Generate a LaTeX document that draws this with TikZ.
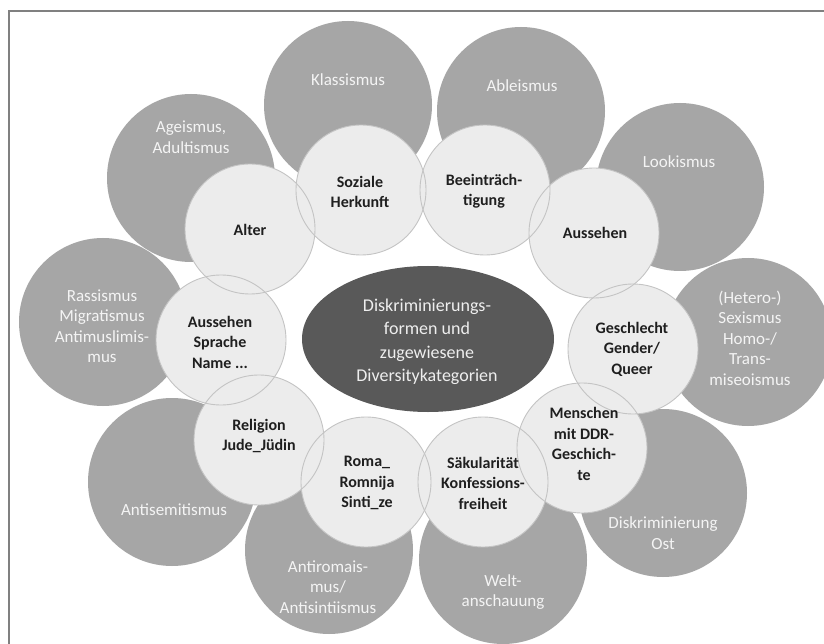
\documentclass[tikz,border=0pt]{standalone}
\usepackage{fontspec}
\setmainfont{Carlito}
\definecolor{outerc}{HTML}{A6A6A6}
\definecolor{innerc}{HTML}{ECECEC}
\definecolor{linec}{HTML}{C4C4C4}
\definecolor{ellc}{HTML}{595959}
\definecolor{otextc}{HTML}{F4F4F4}
\definecolor{etextc}{HTML}{EEEEEE}
\definecolor{framec}{HTML}{808080}
\begin{document}
\begin{tikzpicture}[x=1pt,y=-1pt,
  outer/.style={circle, fill=outerc, minimum size=168pt, inner sep=0pt},
  inner/.style={circle, fill=innerc, minimum size=130pt, inner sep=0pt},
  innerline/.style={draw=linec, line width=0.9pt},
  otext/.style={text=otextc, font=\fontsize{17}{20.5}\selectfont, align=center, inner sep=0pt},
  itext/.style={text=black!88, font=\fontsize{16}{20.5}\selectfont\bfseries, align=center, inner sep=0pt},
  etext/.style={text=etextc, font=\fontsize{18}{23.5}\selectfont, align=center, inner sep=0pt},
  framel/.style={draw=framec, line width=2pt}
]
\useasboundingbox (0,0) rectangle (824,644);
\clip (0,0) rectangle (824,644);
\fill[white] (0,0) rectangle (824,644);

% frame
\coordinate (fa) at (9,644);
\coordinate (fb) at (9,11);
\coordinate (fc) at (824,11);
\draw[framel] (fa) -- (fb) -- (fc);

% outer circles
\node[outer] (oage)  at (191,178) {};
\node[outer] (oklas) at (348,105) {};
\node[outer] (oable) at (521,111) {};
\node[outer] (olook) at (680,187) {};
\node[outer] (osex)  at (748,342) {};
\node[outer] (oost)  at (663,493) {};
\node[outer] (owelt) at (503,560) {};
\node[outer] (oroma) at (329,550) {};
\node[outer] (osemi) at (172,482) {};
\node[outer] (orass) at (103,322) {};

% outer texts
\node[otext] (tage)  at (191,137) {Ageismus,\\Adultismus};
\node[otext] (tklas) at (348,80)  {Klassismus};
\node[otext] (table) at (522,86)  {Ableismus};
\node[otext] (tlook) at (679,162) {Lookismus};
\node[otext] (tsex)  at (750,338) {(Hetero-)\\Sexismus\\Homo-/\\Trans-\\miseoismus};
\node[otext] (tost)  at (663,533) {Diskriminierung\\Ost};
\node[otext] (twelt) at (503,592) {Welt-\\anschauung};
\node[otext] (troma) at (328,587) {Antiromais-\\mus/\\Antisintiismus};
\node[otext] (tsemi) at (174,510) {Antisemitismus};
\node[otext] (trass) at (102,326) {Rassismus\\Migratismus\\Antimuslimis-\\mus};

% inner circles (fills)
\node[inner] (iasn)  at (221,340) {};
\node[inner] (irel)  at (259,440) {};
\node[inner] (iroma) at (366,482) {};
\node[inner] (isak)  at (483,482) {};
\node[inner] (iddr)  at (582,448) {};
\node[inner] (iges)  at (633,349) {};
\node[inner] (iaus)  at (594,233) {};
\node[inner] (ibee)  at (485,190) {};
\node[inner] (isoz)  at (361,190) {};
\node[inner] (ialt)  at (250,229) {};

% inner outlines
\foreach \n in {iasn,irel,iroma,isak,iddr,iges,iaus,ibee,isoz,ialt}
  \draw[innerline] (\n.center) circle[radius=65pt];

% inner texts
\node[itext] (talt)  at (250,230) {Alter};
\node[itext] (tsoz)  at (360,192) {Soziale\\Herkunft};
\node[itext] (tbee)  at (484,191) {Beeinträch-\\tigung};
\node[itext] (taus)  at (595,233) {Aussehen};
\node[itext] (tges)  at (632,349) {Geschlecht\\Gender/\\Queer};
\node[itext] (tddr)  at (584,444) {Menschen\\mit DDR-\\Geschich-\\te};
\node[itext] (tsak)  at (483,483) {Säkularität\\Konfessions-\\freiheit};
\node[itext] (troma2) at (367,483) {Roma\_\\Romnija\\Sinti\_ze};
\node[itext] (trel)  at (259,436) {Religion\\Jude\_Jüdin};
\node[itext] (tasn)  at (220,342) {Aussehen\\Sprache\\Name ...};

% centre ellipse
\fill[ellc] (428,339) ellipse[x radius=126pt, y radius=73pt];
\node[etext] (center) at (427,342) {Diskriminierungs-\\formen und\\zugewiesene\\Diversitykategorien};
\end{tikzpicture}
\end{document}
